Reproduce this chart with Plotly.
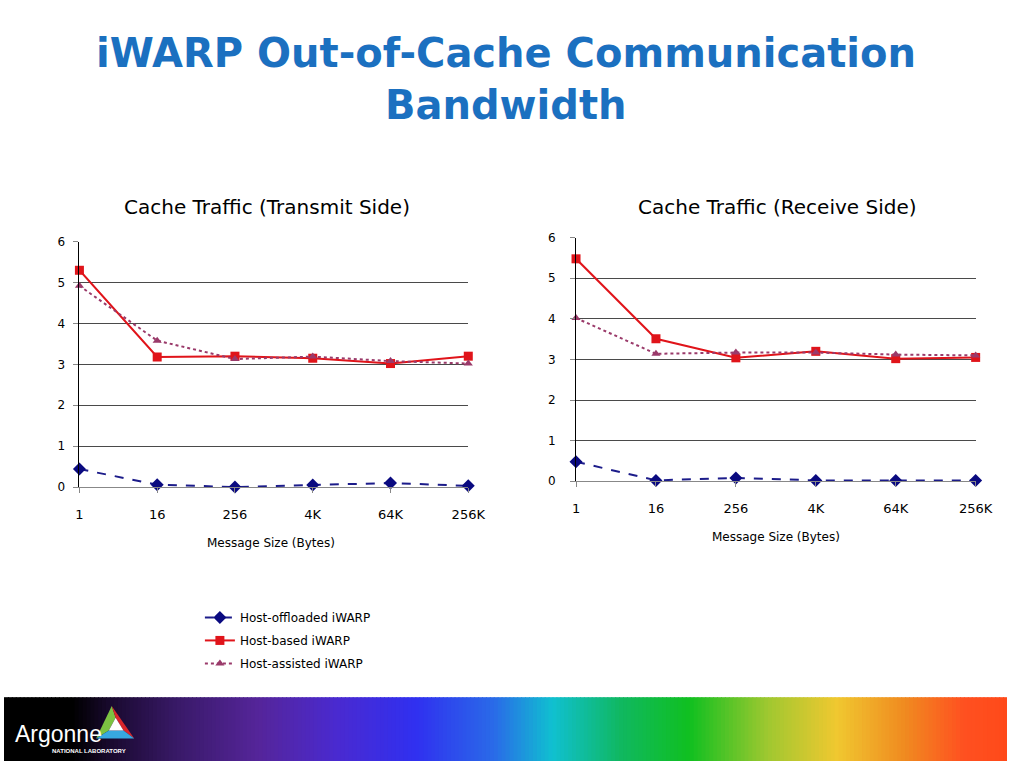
import plotly.graph_objects as go

W, H = 1024, 768  # reference frame used to express positions as paper fractions

# ---------------- data ----------------
sizes = ["1", "16", "256", "4K", "64K", "256K"]
series_names = ["Host-offloaded iWARP", "Host-based iWARP", "Host-assisted iWARP"]

tx_offloaded = [0.44, 0.06, 0.00, 0.05, 0.10, 0.03]
tx_based = [5.30, 3.18, 3.20, 3.15, 3.02, 3.20]
tx_assisted = [4.92, 3.58, 3.13, 3.19, 3.08, 3.02]

rx_offloaded = [0.48, 0.02, 0.08, 0.02, 0.02, 0.02]
rx_based = [5.48, 3.51, 3.04, 3.20, 3.02, 3.05]
rx_assisted = [4.02, 3.14, 3.17, 3.17, 3.12, 3.10]

y_ticks = [0, 1, 2, 3, 4, 5, 6]


def px(x):
    return x / W


def py(y):
    return 1 - y / H


styles = [
    dict(line=dict(color="#1c1c8a", width=2, dash="dash"),
         marker=dict(symbol="diamond", size=10, color="#0a0a80")),
    dict(line=dict(color="#e0141a", width=2, dash="solid"),
         marker=dict(symbol="square", size=9, color="#e0141a")),
    dict(line=dict(color="#9a3a6a", width=2, dash="dot"),
         marker=dict(symbol="triangle-up", size=8, color="#9a3a6a")),
]

fig = go.Figure()
xs = list(range(len(sizes)))
for panel, data in ((1, (tx_offloaded, tx_based, tx_assisted)),
                    (2, (rx_offloaded, rx_based, rx_assisted))):
    for i, (name, vals) in enumerate(zip(series_names, data)):
        fig.add_trace(go.Scatter(
            x=xs, y=vals, name=name, mode="lines+markers",
            xaxis="x" if panel == 1 else "x2",
            yaxis="y" if panel == 1 else "y2",
            legendgroup="g%d" % i,
            showlegend=(panel == 1), cliponaxis=False,
            hoverinfo="skip", **styles[i]))

tick_font = dict(family="DejaVu Sans", size=13, color="black")
xcommon = dict(range=[0, 5], tickmode="array", tickvals=xs, ticktext=sizes,
               showgrid=False, zeroline=False, showline=True, linecolor="#888888",
               linewidth=1, ticks="outside", ticklen=5, tickcolor="#888888",
               tickfont=tick_font, fixedrange=True, ticklabelstandoff=10)
ycommon = dict(range=[0, 6], tickmode="array", tickvals=y_ticks,
               showgrid=True, gridcolor="#4a4a4a", gridwidth=1, zeroline=False,
               showline=True, linecolor="black", linewidth=1, ticks="outside",
               ticklen=5, tickcolor="#888888",
               tickfont=dict(family="DejaVu Sans", size=12, color="black"),
               fixedrange=True)

fig.update_layout(
    autosize=True, margin=dict(l=0, r=0, t=0, b=0, pad=0),
    paper_bgcolor="white", plot_bgcolor="white",
    xaxis=dict(domain=[px(77), px(474)], anchor="y", **xcommon),
    yaxis=dict(domain=[py(489), py(239)], anchor="x", ticklabelstandoff=6, **ycommon),
    xaxis2=dict(domain=[px(584), px(992)], anchor="y2", **xcommon),
    yaxis2=dict(domain=[py(483), py(235)], anchor="x2", ticklabelstandoff=12, **ycommon),
    showlegend=True,
    legend=dict(x=px(200), y=py(607), xanchor="left", yanchor="top",
                font=dict(family="DejaVu Sans", size=12, color="black"),
                bgcolor="rgba(0,0,0,0)", traceorder="grouped", tracegroupgap=4),
)

annotations = [
    dict(text="iWARP Out-of-Cache Communication", x=px(512), y=py(47),
         font=dict(family="DejaVu Sans", size=40, color="#1b70c0", weight="bold")),
    dict(text="Bandwidth", x=px(512), y=py(100),
         font=dict(family="DejaVu Sans", size=40, color="#1b70c0", weight="bold")),
    dict(text="Cache Traffic (Transmit Side)", x=px(269), y=py(204),
         font=dict(family="DejaVu Sans", size=20, color="black")),
    dict(text="Cache Traffic (Receive Side)", x=px(790), y=py(204),
         font=dict(family="DejaVu Sans", size=20, color="black")),
    dict(text="Message Size (Bytes)", x=px(273), y=py(546),
         font=dict(family="DejaVu Sans", size=12, color="black")),
    dict(text="Message Size (Bytes)", x=px(788), y=py(540),
         font=dict(family="DejaVu Sans", size=12, color="black")),
    dict(text="Argonne", x=px(9), y=py(740), xanchor="left",
         font=dict(family="Liberation Sans", size=23, color="white")),
    dict(text="NATIONAL LABORATORY", x=px(47), y=py(758), xanchor="left",
         font=dict(family="Liberation Sans", size=6, color="white", weight="bold")),
]
for a in annotations:
    a.setdefault("xanchor", "center")
    a.update(xref="paper", yref="paper", yanchor="middle", showarrow=False)
fig.update_layout(annotations=annotations)

# ---------------- bottom banner (decoration) ----------------
stops = [(0, "#000000"), (70, "#000000"), (110, "#1a0a30"), (180, "#3a1a6a"),
         (260, "#55259a"), (340, "#4a2ad0"), (420, "#3030f0"), (500, "#2a6ae8"),
         (560, "#10c0d0"), (630, "#10b860"), (700, "#10c020"), (780, "#a0c830"),
         (850, "#f0c830"), (920, "#f08a20"), (980, "#ff5020"), (1024, "#ff4a1a")]


def hex2rgb(h):
    return tuple(int(h[i:i + 2], 16) for i in (1, 3, 5))


def color_at(x):
    for (x0, c0), (x1, c1) in zip(stops[:-1], stops[1:]):
        if x0 <= x <= x1:
            t = (x - x0) / (x1 - x0) if x1 > x0 else 0
            a, b = hex2rgb(c0), hex2rgb(c1)
            return "rgb(%d,%d,%d)" % tuple(round(a[k] + (b[k] - a[k]) * t) for k in range(3))
    return stops[-1][1]


shapes = []
step = 4
for x0 in range(0, W, step):
    shapes.append(dict(type="rect", xref="paper", yref="paper",
                       x0=px(x0), x1=px(min(x0 + step + 1, W)), y0=0, y1=py(703),
                       fillcolor=color_at(x0 + step / 2), line=dict(width=0), layer="below"))


def path(pts):
    return "M " + " L ".join("%f,%f" % (px(a), py(b)) for a, b in pts) + " Z"


A, B, C = (110, 712), (94, 745), (133, 745)
P, Q, R = (114, 724), (107, 737), (122, 737)
for pts, col in (([A, B, Q, P], "#7cc242"), ([A, P, R, C], "#d9262b"),
                 ([B, C, R, Q], "#37a8df"), ([P, Q, R], "#ffffff")):
    shapes.append(dict(type="path", xref="paper", yref="paper", path=path(pts),
                       fillcolor=col, line=dict(width=0), layer="above"))
fig.update_layout(shapes=shapes)

fig.write_html(
    "out.html",
    default_width="100vw", default_height="100vh",
    config=dict(responsive=True, displayModeBar=False),
    post_script=("document.documentElement.style.margin='0';"
                 "document.documentElement.style.overflow='hidden';"
                 "document.body.style.margin='0';"
                 "document.body.style.overflow='hidden';"),
)
